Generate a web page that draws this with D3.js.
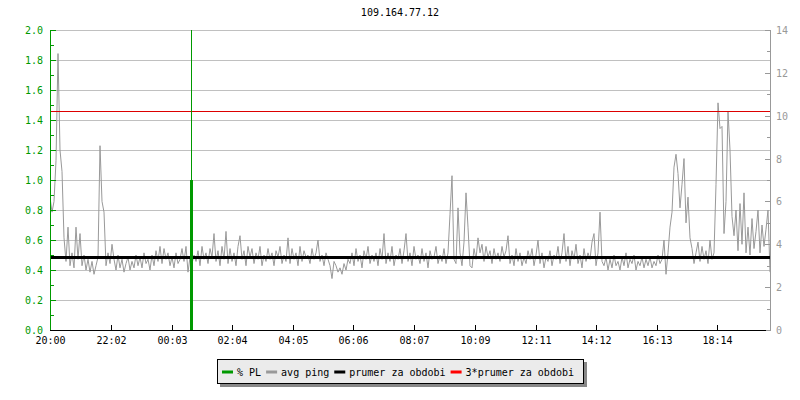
<!DOCTYPE html>
<html>
<head>
<meta charset="utf-8">
<script src="https://cdn.jsdelivr.net/npm/d3@7"></script>
<style>
  body { margin: 0; background: #fff; }
  svg { display: block; font-family: "DejaVu Sans Mono", monospace; }
</style>
</head>
<body>
<div class="chart-container"></div>
<script>
const width = 800, height = 400;

// avg ping in ms, one sample every 4 minutes starting at 20:00
var pingStep = 4;
var pingValues = [
  6.2, 5.5, 6.0, 7.9, 12.9, 8.4, 7.4, 4.3, 3.2, 4.8, 3.0, 3.6, 2.9, 4.8, 3.3,
  4.5, 3.0, 3.5, 2.8, 3.3, 2.7, 3.2, 2.6, 3.0, 3.4, 8.6, 6.0, 5.5, 3.0, 3.6,
  3.1, 4.0, 3.3, 2.8, 3.5, 2.9, 3.3, 2.7, 3.1, 3.4, 2.8, 3.2, 2.9, 3.5, 3.0,
  3.4, 2.9, 3.6, 3.1, 3.3, 2.8, 3.5, 3.0, 3.7, 3.2, 3.9, 3.1, 3.8, 3.3, 3.6,
  3.0, 3.4, 2.9, 3.6, 3.1, 3.3, 3.8, 3.2, 3.9, 2.7, 3.4, 3.1, 3.5, 3.2, 3.7,
  3.0, 3.9, 3.3, 3.6, 3.1, 3.8, 3.4, 4.5, 3.2, 3.7, 3.0, 3.9, 3.3, 4.6, 3.1,
  3.8, 3.2, 3.6, 3.0, 3.9, 4.4, 3.3, 3.7, 3.0, 3.9, 3.4, 3.8, 3.1, 3.6, 3.3,
  3.9, 3.0, 3.5, 3.2, 3.8, 3.3, 3.6, 3.0, 3.7, 3.4, 3.9, 3.1, 3.5, 3.2, 4.3,
  3.1, 3.8, 3.3, 3.6, 3.0, 3.9, 3.2, 3.7, 3.4, 3.5, 3.1, 3.8, 3.3, 3.6, 4.2,
  3.2, 3.5, 3.0, 3.6, 3.3, 3.0, 2.4, 3.2, 3.0, 2.7, 2.9, 2.6, 3.1, 2.8, 3.3,
  3.1, 3.6, 3.0, 3.8, 3.2, 3.5, 2.9, 3.7, 3.3, 3.9, 3.1, 3.5, 3.2, 3.6, 3.0,
  3.8, 3.3, 4.5, 3.1, 3.6, 3.2, 3.9, 3.0, 3.5, 3.3, 3.8, 3.1, 3.7, 4.5, 3.2,
  3.6, 3.0, 3.9, 3.3, 3.5, 3.1, 3.8, 3.2, 3.6, 2.9, 3.7, 3.3, 3.4, 3.9, 3.1,
  3.5, 3.2, 3.8, 3.1, 3.6, 5.4, 7.2, 3.3, 3.1, 5.7, 3.6, 3.0, 4.1, 6.4, 4.8,
  3.0, 2.9, 3.8, 3.3, 4.3, 3.6, 4.0, 3.2, 3.9, 3.4, 3.7, 3.1, 3.8, 3.3, 3.6,
  3.2, 3.9, 3.4, 3.7, 4.4, 3.1, 3.5, 3.0, 3.8, 3.2, 3.6, 3.0, 3.4, 3.1, 3.7,
  3.3, 3.8, 3.0, 3.5, 4.2, 3.1, 3.6, 2.9, 3.4, 3.2, 3.7, 3.0, 3.5, 3.3, 3.9,
  3.1, 3.6, 4.5, 3.2, 3.9, 3.0, 3.7, 3.3, 4.0, 3.1, 3.5, 2.9, 3.8, 3.2, 3.6,
  3.3, 4.1, 4.5, 3.0, 3.6, 5.5, 3.2, 3.0, 3.4, 2.8, 3.3, 2.9, 3.5, 3.0, 3.2,
  2.8, 3.4, 3.0, 3.6, 2.9, 3.3, 3.1, 3.5, 2.8, 3.2, 3.0, 3.4, 2.9, 3.3, 3.0,
  3.4, 2.9, 3.2, 3.0, 3.5, 3.1, 3.3, 4.2, 2.6, 3.6, 4.8, 5.5, 7.6, 8.2, 7.3,
  5.7, 6.8, 8.0, 5.0, 6.2, 4.3, 3.8, 3.1, 3.6, 4.1, 3.2, 3.9, 3.3, 3.7, 3.1,
  4.2, 3.3, 3.6, 6.8, 10.6, 9.4, 9.5, 4.5, 6.0, 10.2, 8.4, 5.3, 4.4, 5.6, 3.7,
  5.9, 4.0, 6.4, 3.6, 4.8, 3.5, 5.2, 3.8, 4.6, 5.6, 3.6, 4.9, 3.9, 4.7, 5.6,
  2.7
];

// packet loss (left axis)
var plTimes = ["00:42"];
var plValues = [1.0];
var plPeaks = [2.0];

var avgPing = 3.4;

var xTickLabels = ["20:00", "22:02", "00:03", "02:04", "04:05", "06:06",
                   "08:07", "10:09", "12:11", "14:12", "16:13", "18:14"];
var leftTicks = [0, 0.2, 0.4, 0.6, 0.8, 1.0, 1.2, 1.4, 1.6, 1.8, 2.0];
var rightTicks = [0, 2, 4, 6, 8, 10, 12, 14];

var legendItems = [
  {label: "% PL", color: "#009900"},
  {label: "avg ping", color: "#999999"},
  {label: "prumer za obdobi", color: "#000000"},
  {label: "3*prumer za obdobi", color: "#ff0000"}
];

var pLeft = 50, pRight = 770, pTop = 30, pBottom = 330;
var green = "#009900", gray = "#999999";

// minutes after 20:00
function toMinutes(s) {
  var p = s.split(":");
  var m = (+p[0]) * 60 + (+p[1]) - 20 * 60;
  if (m < 0) m += 1440;
  return m;
}

var x = d3.scaleLinear().domain([0, 1440]).range([pLeft, pRight]);
var yLeft = d3.scaleLinear().domain([0, 2]).range([pBottom, pTop]);
var yRight = d3.scaleLinear().domain([0, 14]).range([pBottom, pTop]);

var svg = d3.select(".chart-container")
  .append("svg")
  .attr("width", width)
  .attr("height", height);

svg.append("text")
  .attr("x", 400).attr("y", 16)
  .attr("text-anchor", "middle")
  .attr("font-size", 10)
  .text("109.164.77.12");

// grid
svg.append("g")
  .selectAll("line")
  .data(leftTicks.slice(1))
  .enter().append("line")
  .attr("x1", pLeft).attr("x2", pRight)
  .attr("y1", d => yLeft(d) + 0.5).attr("y2", d => yLeft(d) + 0.5)
  .attr("stroke", "#c0c0c0")
  .attr("shape-rendering", "crispEdges");

svg.append("defs").append("clipPath").attr("id", "plot")
  .append("rect").attr("x", pLeft).attr("y", pTop)
  .attr("width", pRight - pLeft).attr("height", pBottom - pTop);

// avg ping line
var line = d3.line()
  .x((d, i) => x(i * pingStep))
  .y(d => yRight(d));

svg.append("path")
  .datum(pingValues)
  .attr("clip-path", "url(#plot)")
  .attr("d", line)
  .attr("fill", "none")
  .attr("stroke", gray)
  .attr("stroke-width", 1);

// average and 3*average
svg.append("line")
  .attr("x1", pLeft).attr("x2", pRight)
  .attr("y1", yRight(avgPing)).attr("y2", yRight(avgPing))
  .attr("stroke", "#000").attr("stroke-width", 3)
  .attr("shape-rendering", "crispEdges");

svg.append("line")
  .attr("x1", pLeft).attr("x2", pRight)
  .attr("y1", Math.round(yRight(3 * avgPing)) + 0.5).attr("y2", Math.round(yRight(3 * avgPing)) + 0.5)
  .attr("stroke", "#dd0000").attr("stroke-width", 1)
  .attr("shape-rendering", "crispEdges");

// packet loss
var plGroup = svg.append("g").attr("shape-rendering", "crispEdges");
plTimes.forEach(function(t, i) {
  var px = Math.round(x(toMinutes(t)));
  plGroup.append("line")
    .attr("x1", px + 0.5).attr("x2", px + 0.5)
    .attr("y1", yLeft(plValues[i])).attr("y2", yLeft(Math.min(plPeaks[i], 2)))
    .attr("stroke", green).attr("stroke-width", 1);
  plGroup.append("rect")
    .attr("x", px - 1).attr("width", 3)
    .attr("y", yLeft(plValues[i]))
    .attr("height", yLeft(0) - yLeft(plValues[i]))
    .attr("fill", green);
});

// left axis (inside ticks)
var leftAxis = svg.append("g").attr("shape-rendering", "crispEdges");
leftAxis.append("line")
  .attr("x1", pLeft + 0.5).attr("x2", pLeft + 0.5)
  .attr("y1", pTop).attr("y2", pBottom + 1)
  .attr("stroke", green);
d3.range(0, 21).forEach(function(k) {
  var major = k % 2 == 0;
  var py = Math.round(yLeft(k / 10)) + 0.5;
  leftAxis.append("line")
    .attr("x1", pLeft).attr("x2", pLeft + (major ? 6 : 4))
    .attr("y1", py).attr("y2", py)
    .attr("stroke", green);
});
leftAxis.selectAll("text")
  .data(leftTicks)
  .enter().append("text")
  .attr("x", 43).attr("y", d => yLeft(d) + 4)
  .attr("text-anchor", "end")
  .attr("font-size", 10)
  .attr("fill", green)
  .text(d => d3.format(".1f")(d));

// right axis
var rightAxis = svg.append("g").attr("shape-rendering", "crispEdges");
rightAxis.append("line")
  .attr("x1", pRight + 0.5).attr("x2", pRight + 0.5)
  .attr("y1", pTop).attr("y2", pBottom + 1)
  .attr("stroke", gray);
d3.range(0, 15).forEach(function(v) {
  var major = v % 2 == 0;
  var py = Math.round(yRight(v)) + 0.5;
  rightAxis.append("line")
    .attr("x1", pRight - (major ? 5 : 3)).attr("x2", pRight + (major ? 1 : 0))
    .attr("y1", py).attr("y2", py)
    .attr("stroke", gray);
});
rightAxis.selectAll("text")
  .data(rightTicks)
  .enter().append("text")
  .attr("x", 776).attr("y", d => yRight(d) + 4)
  .attr("font-size", 10)
  .attr("fill", gray)
  .text(d => d);

// x axis
var xAxis = svg.append("g").attr("shape-rendering", "crispEdges");
xAxis.append("line")
  .attr("x1", pLeft).attr("x2", pRight - 4)
  .attr("y1", pBottom + 0.5).attr("y2", pBottom + 0.5)
  .attr("stroke", "#000");
xTickLabels.forEach(function(s) {
  var px = Math.round(x(toMinutes(s))) + 0.5;
  if (s != xTickLabels[0]) {
    xAxis.append("line")
      .attr("x1", px).attr("x2", px)
      .attr("y1", pBottom - 5).attr("y2", pBottom)
      .attr("stroke", "#000");
  }
  xAxis.append("text")
    .attr("x", px).attr("y", 344)
    .attr("text-anchor", "middle")
    .attr("font-size", 10)
    .text(s);
});

// legend
var legend = svg.append("g");
var shadow = legend.append("rect");
var box = legend.append("rect");
var cx = 0;
var items = legend.append("g");
legendItems.forEach(function(d) {
  items.append("rect")
    .attr("x", cx).attr("y", -1.5).attr("width", 11).attr("height", 3)
    .attr("fill", d.color);
  var t = items.append("text")
    .attr("x", cx + 15).attr("y", 4)
    .attr("font-size", 10)
    .text(d.label);
  cx += 15 + t.node().getComputedTextLength() + 5;
});
var boxW = cx - 5 + 14;
var bx = Math.round(400 - boxW / 2), by = 359;
items.attr("transform", "translate(" + (bx + 5) + "," + (by + 13) + ")");
box.attr("x", bx + 0.5).attr("y", by + 0.5).attr("width", boxW).attr("height", 24)
  .attr("fill", "#ebebeb").attr("stroke", "#000")
  .attr("shape-rendering", "crispEdges");
shadow.attr("x", bx + 3).attr("y", by + 3).attr("width", boxW + 1).attr("height", 25)
  .attr("fill", "#888").attr("shape-rendering", "crispEdges");
</script>
</body>
</html>
